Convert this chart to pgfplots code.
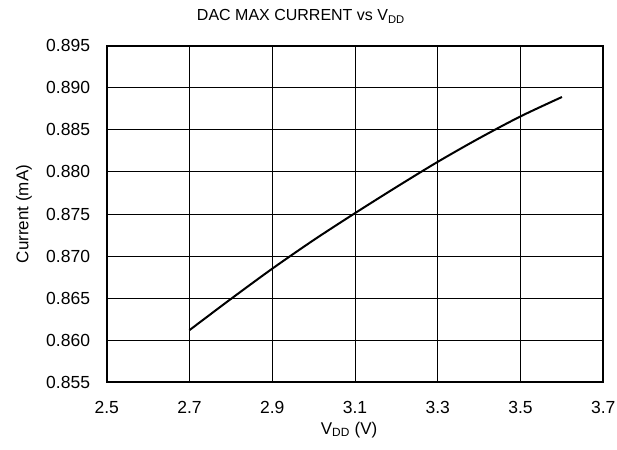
\documentclass[border=0pt]{standalone}
\usepackage{fontspec}
\setmainfont{Liberation Sans}
\usepackage{pgfplots}
\pgfplotsset{compat=1.18}
\begin{document}
\begin{tikzpicture}
\useasboundingbox (-106.7pt,-66.7pt) rectangle (510.3pt,382.3pt);
\begin{axis}[
  width=496.6pt, height=336.6pt, scale only axis,
  xmin=2.5, xmax=3.7, ymin=0.855, ymax=0.895,
  xtick={2.5,2.7,2.9,3.1,3.3,3.5,3.7},
  ytick={0.855,0.860,0.865,0.870,0.875,0.880,0.885,0.890,0.895},
  xticklabel style={/pgf/number format/fixed, /pgf/number format/fixed zerofill, /pgf/number format/precision=1},
  yticklabel style={/pgf/number format/fixed, /pgf/number format/fixed zerofill, /pgf/number format/precision=3},
  /pgf/number format/assume math mode=true,
  major tick length=0pt,
  grid=major,
  major grid style={black, line width=0.9pt},
  axis line style={black, line width=2pt},
  tick label style={font=\fontsize{17.5}{20}\selectfont, inner sep=0pt},
  xticklabel style={anchor=north, yshift=-18.4pt},
  yticklabel style={anchor=east, xshift=-16.5pt},
  scaled y ticks=false,
  title={DAC MAX CURRENT vs V\textsubscript{DD}},
  title style={font=\fontsize{16}{19}\selectfont, at={(axis description cs:0.391,1)}, anchor=center, yshift=23.5pt, inner sep=0pt},
  xlabel={V\textsubscript{DD} (V)},
  xlabel style={font=\fontsize{17}{20}\selectfont, at={(axis description cs:0.488,-0.1417)}, anchor=center, inner sep=0pt},
  ylabel={Current (mA)},
  ylabel style={font=\fontsize{17}{20}\selectfont, at={(axis description cs:-0.1665,0.5)}, rotate=0, anchor=center, inner sep=0pt},
]
\addplot[black, line width=2pt, smooth] coordinates {
  (2.7,0.8612) (2.8,0.8649) (2.9,0.8685) (3.0,0.8719) (3.1,0.8751)
  (3.2,0.8782) (3.3,0.8812) (3.4,0.8840) (3.5,0.8866) (3.6,0.8889)
};
\end{axis}
\end{tikzpicture}
\end{document}
